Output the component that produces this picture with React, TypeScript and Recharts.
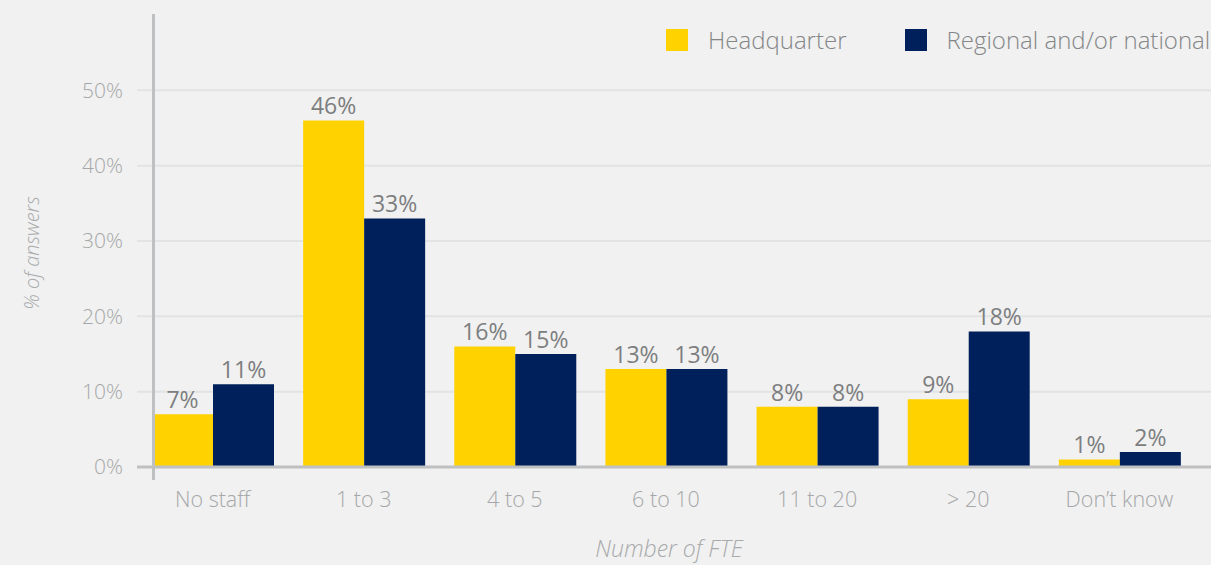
import React from 'react';
import {
  BarChart,
  Bar,
  XAxis,
  YAxis,
  CartesianGrid,
  LabelList,
  Label,
} from 'recharts';

const categories = ['No staff', '1 to 3', '4 to 5', '6 to 10', '11 to 20', '> 20', 'Don\u2019t know'];
const headquarter = [7, 46, 16, 13, 8, 9, 1];
const regional = [11, 33, 15, 13, 8, 18, 2];
const yTicks = [0, 10, 20, 30, 40, 50];

const seriesNames = { hq: 'Headquarter', reg: 'Regional and/or national' };
const colors = { hq: '#ffd200', reg: '#00205b' };

const data = categories.map((name, i) => ({
  name,
  hq: headquarter[i],
  reg: regional[i],
}));

const FONT = '"Open Sans", "Noto Sans", sans-serif';

// legend is plain html, placed over the chart so it does not push the plot down
const ChartLegend = () => (
  <div
    style={{
      position: 'absolute',
      top: 29,
      left: 666,
      display: 'flex',
      alignItems: 'center',
      fontFamily: FONT,
      fontWeight: 300,
    }}
  >
    {(['hq', 'reg'] as const).map((k, i) => (
      <div key={k} style={{ display: 'flex', alignItems: 'center', marginRight: i === 0 ? 58 : 0 }}>
        <span style={{ width: 22, height: 22, background: colors[k], display: 'inline-block', marginRight: 20 }} />
        <span style={{ fontSize: 24, lineHeight: '22px', color: '#858688', whiteSpace: 'nowrap' }}>{seriesNames[k]}</span>
      </div>
    ))}
  </div>
);

const YLabel = (props: any) => {
  const { viewBox } = props;
  const cx = 31;
  const cy = viewBox.y + viewBox.height / 2 + 12;
  return (
    <text
      x={cx}
      y={cy}
      transform={`rotate(-90, ${cx}, ${cy})`}
      textAnchor="middle"
      dominantBaseline="central"
      fontFamily={FONT}
      fontStyle="italic"
      fontWeight={300}
      fontSize={20}
      fill="#a9aaac"
    >
      % of answers
    </text>
  );
};

export default function App() {
  return (
    <div style={{ position: 'relative', width: 1211, height: 565, background: '#f0f1f0' }}>
      <style>{'body{margin:0;}'}</style>
      <BarChart
        width={1211}
        height={565}
        data={data}
        margin={{ top: 15, right: 0, bottom: 0, left: 0 }}
        barCategoryGap={15}
        barGap={0}
      >
        <CartesianGrid
          vertical={false}
          stroke="#e2e3e3"
          strokeWidth={2}
          horizontalValues={[10, 20, 30, 40, 50]}
        />
        <XAxis
          dataKey="name"
          height={98}
          padding={{ left: 0, right: 16 }}
          tickLine={false}
          tickMargin={19}
          axisLine={{ stroke: '#bfc0c2', strokeWidth: 3 }}
          tick={{ fontSize: 21.5, fill: '#a6a7a9', fontFamily: FONT, fontWeight: 300 }}
          interval={0}
        >
          <Label
            value="Number of FTE"
            position="insideBottom"
            offset={8}
            dx={-5}
            style={{ fontSize: 23, fill: '#a9aaac', fontFamily: FONT, fontStyle: 'italic', fontWeight: 300 }}
          />
        </XAxis>
        <YAxis
          width={137}
          domain={[0, 60]}
          ticks={yTicks}
          tickFormatter={(v: number) => `${v}%`}
          axisLine={false}
          tickLine={false}
          tickMargin={8}
          tick={{ fontSize: 21, fill: '#a6a7a9', fontFamily: FONT, fontWeight: 300 }}
        >
          <Label content={<YLabel />} />
        </YAxis>
        <Bar dataKey="hq" name={seriesNames.hq} fill={colors.hq} isAnimationActive={false}>
          <LabelList
            dataKey="hq"
            position="top"
            offset={6}
            formatter={(v: any) => `${v}%`}
            style={{ fontSize: 23, fill: '#7d7e80', fontFamily: FONT, fontWeight: 400 }}
          />
        </Bar>
        <Bar dataKey="reg" name={seriesNames.reg} fill={colors.reg} isAnimationActive={false}>
          <LabelList
            dataKey="reg"
            position="top"
            offset={6}
            formatter={(v: any) => `${v}%`}
            style={{ fontSize: 23, fill: '#7d7e80', fontFamily: FONT, fontWeight: 400 }}
          />
        </Bar>
      </BarChart>
      <ChartLegend />
      {/* vertical axis line sits inside the first band in the original */}
      <div
        style={{
          position: 'absolute',
          left: 152,
          top: 14,
          width: 3,
          height: 466,
          background: '#bfc0c2',
        }}
      />
    </div>
  );
}
